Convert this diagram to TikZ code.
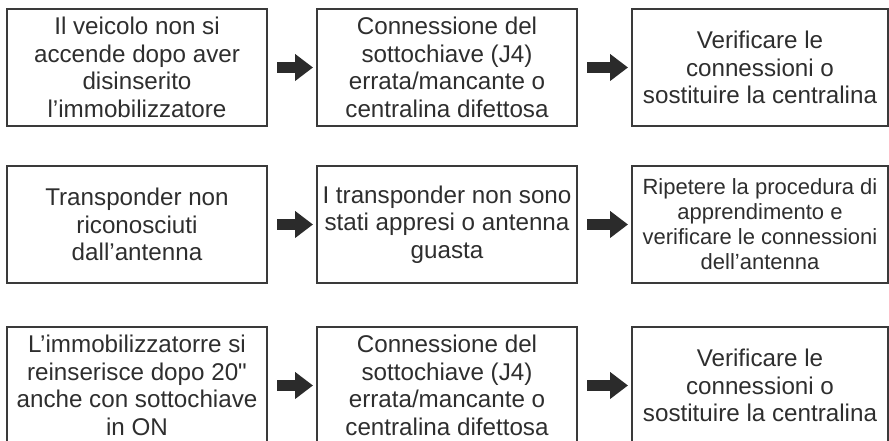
\documentclass[tikz,border=0pt]{standalone}
\usepackage{fontspec}
\setmainfont{Liberation Sans}[Ligatures=TeXOff]
\usepackage{tikz}
\usetikzlibrary{arrows.meta}
\usetikzlibrary{positioning}
\definecolor{im-text}{HTML}{2E2E2E}
\definecolor{im-frame}{HTML}{3A3A3A}
\definecolor{im-arrow}{HTML}{2B2B2B}

\begin{document}
\begin{tikzpicture}[
    font=\fontsize{24.2}{27.5}\selectfont,
    >=latex
  ]
  \tikzset{
    faultbox/.style={draw=im-frame, line width=1.4pt, minimum width=260pt, minimum height=117pt, inner sep=0pt, outer sep=0pt, text=im-text, align=center},
    fixbox/.style={faultbox, minimum width=256pt},
    flowarrow/.style={-{Triangle[length=18pt, width=26pt]}, im-arrow, line width=11pt, shorten <=10pt, shorten >=4pt}
  }
  \useasboundingbox (0,0) rectangle (889pt,441pt);

  \node (fault1) [faultbox] at (137pt,373.5pt) {Il veicolo non si\\accende dopo aver\\disinserito\\l’immobilizzatore};
  \node (cause1) [faultbox, right=50pt of fault1] {Connessione del\\sottochiave (J4)\\errata/mancante o\\centralina difettosa};
  \node (fix1) [fixbox, right=55pt of cause1] {Verificare le\\connessioni o\\sostituire la centralina};

  \node (fault2) [faultbox, below=40pt of fault1] {Transponder non\\riconosciuti\\dall’antenna};
  \node (cause2) [faultbox, below=40pt of cause1] {I transponder non sono\\stati appresi o antenna\\guasta};
  \node (fix2) [fixbox, below=40pt of fix1, font=\fontsize{22}{25}\selectfont] {Ripetere la procedura di\\apprendimento e\\verificare le connessioni\\dell’antenna};

  \node (fault3) [faultbox, below=44pt of fault2] {L’immobilizzatorre si\\reinserisce dopo 20"\\anche con sottochiave\\in ON};
  \node (cause3) [faultbox, below=44pt of cause2] {Connessione del\\sottochiave (J4)\\errata/mancante o\\centralina difettosa};
  \node (fix3) [fixbox, below=44pt of fix2] {Verificare le\\connessioni o\\sostituire la centralina};

  \foreach \row in {1,2,3} {
    \draw[flowarrow] (fault\row.east) -- (cause\row.west);
    \draw[flowarrow] (cause\row.east) -- (fix\row.west);
  }
\end{tikzpicture}
\end{document}
